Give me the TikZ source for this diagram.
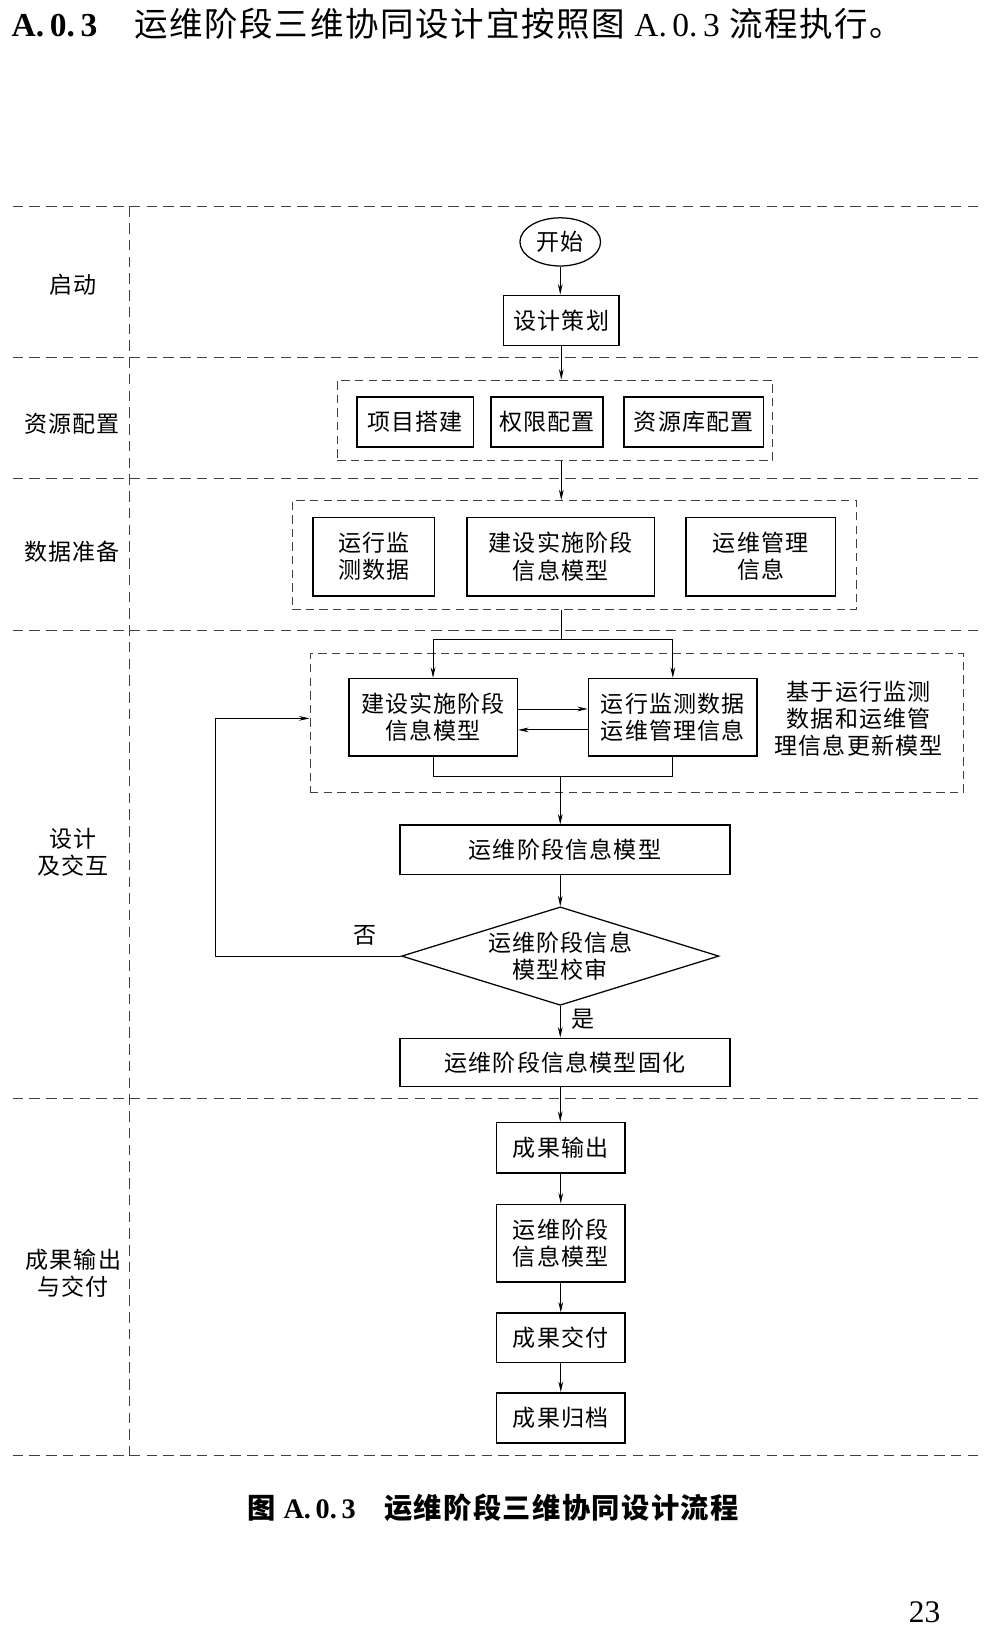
\documentclass[tikz,border=0pt]{standalone}
\usepackage{fontspec}
\setmainfont[LetterSpace=5]{Noto Sans CJK SC}
\newfontfamily\lat{Liberation Serif}
\usetikzlibrary{arrows.meta,shapes.geometric}
\tikzset{
  txt/.style={font=\fontsize{22}{26}\selectfont, align=center, inner sep=0pt},
  box/.style={txt, draw, line width=1.5pt},
  grp/.style={draw=black!75, line width=0.9pt, dash pattern=on 8pt off 5pt, inner sep=0pt},
  lane/.style={draw=black!75, line width=0.9pt, dash pattern=on 10pt off 6pt},
  arr/.style={-{Stealth[length=10pt,width=4.5pt]}, line width=0.8pt},
  ln/.style={line width=0.8pt}
}
\begin{document}
\begin{tikzpicture}[x=1pt,y=-1pt]
\useasboundingbox (0,0) rectangle (946,1568);
% header
\node[anchor=west, inner sep=0] (hdr) at (11,23) {\fontsize{32}{36}\selectfont{\lat\bfseries A.\,0.\,3}\hspace{1.1em}运维阶段三维协同设计宜按照图 {\lat A.\,0.\,3} 流程执行。};
% lanes
\foreach \yy in {197,341,457,602,1049,1390} \draw[lane] (12,\yy) -- (938,\yy);
\draw[lane] (124,197) -- (124,1390);
\node[txt] (l1) at (70,272) {启动};
\node[txt] (l2) at (69,405) {资源配置};
\node[txt] (l3) at (69,527) {数据准备};
\node[txt] (l4) at (70,814) {设计\\及交互};
\node[txt] (l5) at (70,1216) {成果输出\\与交付};
% start
\node[txt, draw, line width=1.2pt, ellipse, minimum width=77pt, minimum height=46pt] (start) at (535,231) {开始};
\node[box, minimum width=110pt, minimum height=48pt] (plan) at (536,306) {设计策划};
% resources
\node[grp, minimum width=416pt, minimum height=77pt] (resg) at (530,401.5) {};
\node[box, minimum width=111pt, minimum height=48pt] (r1) at (396.5,403) {项目搭建};
\node[box, minimum width=107pt, minimum height=48pt] (r2) at (522.5,403) {权限配置};
\node[box, minimum width=133pt, minimum height=48pt] (r3) at (662.5,403) {资源库配置};
% data
\node[grp, minimum width=539pt, minimum height=104pt] (datg) at (548.5,530) {};
\node[box, minimum width=116pt, minimum height=75pt] (d1) at (357,531.5) {运行监\\测数据};
\node[box, minimum width=179pt, minimum height=75pt] (d2) at (535.5,531.5) {建设实施阶段\\信息模型};
\node[box, minimum width=143pt, minimum height=75pt] (d3) at (726.5,531.5) {运维管理\\信息};
% design
\node[grp, minimum width=624pt, minimum height=133pt] (desg) at (608,690.5) {};
\node[box, minimum width=161pt, minimum height=74pt] (m1) at (413.5,685) {建设实施阶段\\信息模型};
\node[box, minimum width=161pt, minimum height=74pt] (m2) at (642.5,685) {运行监测数据\\运维管理信息};
\node[txt] (note) at (820,686.5) {基于运行监测\\数据和运维管\\理信息更新模型};
\node[box, minimum width=315pt, minimum height=47pt] (ywm) at (539.5,811.5) {运维阶段信息模型};
\node[draw, line width=1.2pt, diamond, minimum width=303pt, minimum height=94pt, inner sep=0pt,
  label={[txt]center:运维阶段信息\\模型校审}] (chk) at (535,913) {};
\node[box, minimum width=315pt, minimum height=46pt] (fix) at (539.5,1014.5) {运维阶段信息模型固化};
\node[txt] (no) at (349,893) {否};
\node[txt] (yes) at (557,973) {是};
% output
\node[box, minimum width=123pt, minimum height=48pt] (o1) at (535.5,1096) {成果输出};
\node[box, minimum width=123pt, minimum height=74pt] (o2) at (535.5,1187) {运维阶段\\信息模型};
\node[box, minimum width=123pt, minimum height=47pt] (o3) at (535.5,1277.5) {成果交付};
\node[box, minimum width=123pt, minimum height=48pt] (o4) at (535.5,1354) {成果归档};
% connectors
\draw[arr] (start.south) -- (start.south |- plan.north);
\draw[arr] (plan.south) -- (plan.south |- resg.north);
\draw[arr] (plan.south |- resg.south) -- (plan.south |- datg.north);
\coordinate (sp) at (536,611);
\draw[ln] (sp |- datg.south) -- (sp);
\draw[arr] (sp) -| (m1.north);
\draw[arr] (sp) -| (m2.north);
\draw[arr] ([yshift=8pt]m1.east) -- ([yshift=8pt]m2.west);
\draw[arr] ([yshift=-12pt]m2.west) -- ([yshift=-12pt]m1.east);
\coordinate (jn) at (535,741);
\draw[ln] (m1.south) -- (m1.south |- jn) -- (m2.south |- jn) -- (m2.south);
\draw[arr] (jn) -- (jn |- ywm.north);
\draw[arr] (jn |- ywm.south) -- (chk.north);
\draw[arr] (chk.south) -- (chk.south |- fix.north);
\coordinate (lp) at (206,686);
\draw[arr] (chk.west) -| (lp) -- (lp -| desg.west);
\draw[arr] (chk.south |- fix.south) -- (chk.south |- o1.north);
\draw[arr] (o1.south) -- (o2.north);
\draw[arr] (o2.south) -- (o3.north);
\draw[arr] (o3.south) -- (o4.north);
% caption
\node[anchor=west, inner sep=0] (cap) at (236,1440) {\fontsize{27}{30}\selectfont\bfseries 图 {\lat A.\,0.\,3}\hspace{1em}运维阶段三维协同设计流程};
\node[inner sep=0] (pg) at (883,1540) {\fontsize{30}{34}\selectfont\lat 23};
\end{tikzpicture}
\end{document}
